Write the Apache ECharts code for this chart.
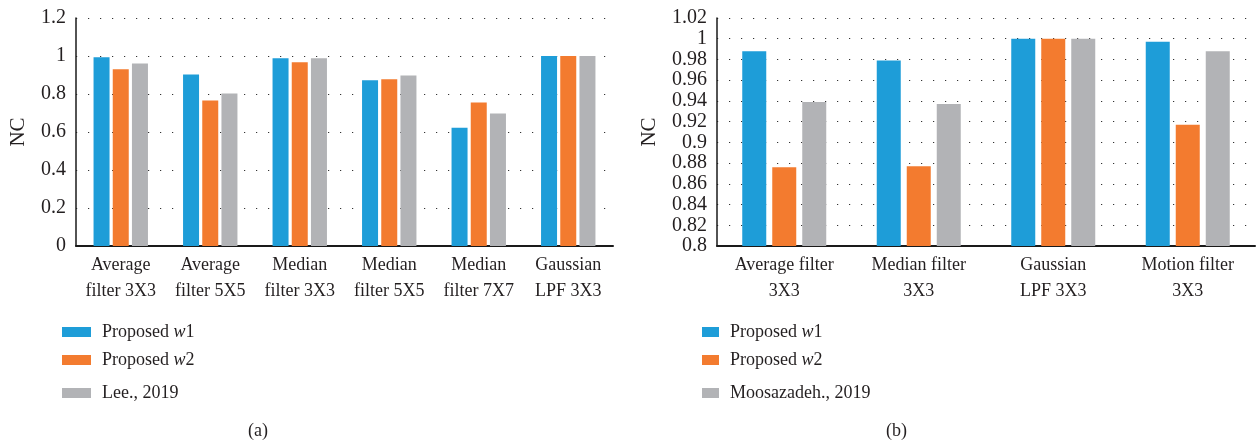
<!DOCTYPE html>
<html>
<head>
<meta charset="utf-8">
<script src="https://cdn.jsdelivr.net/npm/echarts@6/dist/echarts.min.js"></script>
<style>
  html, body { margin: 0; padding: 0; background: #fff; }
  #wrap { position: relative; width: 1256px; height: 446px; }
  #chartA, #chartB { position: absolute; top: 0; width: 628px; height: 446px; }
  #chartA { left: 0; }
  #chartB { left: 628px; }
</style>
</head>
<body>
<div id="wrap">
  <div id="chartA"></div>
  <div id="chartB"></div>
</div>
<script>
// Panel (a): NC under filtering attacks, compared with Lee., 2019
const catsA = ['Average\nfilter 3X3', 'Average\nfilter 5X5', 'Median\nfilter 3X3',
               'Median\nfilter 5X5', 'Median\nfilter 7X7', 'Gaussian\nLPF 3X3'];
const w1A  = [0.993, 0.902, 0.988, 0.872, 0.623, 1.0];
const w2A  = [0.930, 0.766, 0.967, 0.877, 0.755, 1.0];
const leeA = [0.961, 0.803, 0.988, 0.898, 0.697, 1.0];

// Panel (b): NC compared with Moosazadeh., 2019
const catsB = ['Average filter\n3X3', 'Median filter\n3X3', 'Gaussian\nLPF 3X3', 'Motion filter\n3X3'];
const w1B  = [0.988, 0.979, 1.0, 0.997];
const w2B  = [0.876, 0.877, 1.0, 0.917];
const mooB = [0.939, 0.937, 1.0, 0.988];

const namesA = ['Proposed w1', 'Proposed w2', 'Lee., 2019'];
const namesB = ['Proposed w1', 'Proposed w2', 'Moosazadeh., 2019'];

const COLORS = ['#1e9dd8', '#f37b2f', '#b2b3b6'];
const FONT = '"Liberation Serif", "DejaVu Serif", serif';
const INK = '#231f20';

function legendFor(name, i, left, tops, iw) {
  return {
    data: [name],
    left: left,
    top: tops[i],
    orient: 'vertical',
    padding: 0,
    itemWidth: iw,
    itemHeight: 10,
    icon: 'rect',
    selectedMode: false,
    formatter: n => n.replace(/w(\d)/, '{i|w}$1'),
    textStyle: {
      fontFamily: FONT, fontSize: 18, color: INK, padding: [0, 0, 0, 6],
      rich: { i: { fontFamily: FONT, fontSize: 18, fontStyle: 'italic', color: INK } }
    }
  };
}

function build(cats, data, names, cfg) {
  const legendTops = [323, 351, 384];
  return {
    animation: false,
    color: COLORS,
    grid: { left: cfg.left, right: cfg.right, top: 18, bottom: 200 },
    legend: names.map((n, i) => legendFor(n, i, cfg.legendLeft, legendTops, cfg.iconW)),
    graphic: [{
      type: 'text', left: cfg.capX, top: 422,
      style: { text: cfg.caption, font: '18px ' + FONT, fill: INK }
    }],
    xAxis: {
      type: 'category',
      data: cats,
      axisLine: { lineStyle: { color: '#1a1a1a', width: 2 } },
      axisTick: { show: false },
      axisLabel: {
        interval: 0, margin: 6, fontFamily: FONT, fontSize: 18, color: INK, lineHeight: 26
      }
    },
    yAxis: {
      type: 'value',
      min: cfg.min, max: cfg.max, interval: cfg.step,
      name: 'NC', nameLocation: 'middle', nameGap: cfg.nameGap,
      nameTextStyle: { fontFamily: FONT, fontSize: 21, color: INK },
      axisLine: { show: true, lineStyle: { color: '#1a1a1a', width: 1.5 } },
      axisTick: { show: false },
      axisLabel: {
        margin: 10, fontFamily: FONT, fontSize: 20, color: INK,
        formatter: v => String(+v.toFixed(2))
      },
      splitLine: { show: true, lineStyle: { color: '#333', width: 1.2, type: [1.2, 10.8] } }
    },
    series: data.map((d, i) => ({
      type: 'bar', name: names[i], data: d,
      barWidth: cfg.barW, barGap: cfg.barGap
    }))
  };
}

const chartA = echarts.init(document.getElementById('chartA'), null, { renderer: 'canvas' });
chartA.setOption(build(catsA, [w1A, w2A, leeA], namesA, {
  left: 75, right: 15, min: 0, max: 1.2, step: 0.2, nameGap: 47,
  barW: 16, barGap: '20%', legendLeft: 62, iconW: 29, caption: '(a)', capX: 248
}));

const chartB = echarts.init(document.getElementById('chartB'), null, { renderer: 'canvas' });
chartB.setOption(build(catsB, [w1B, w2B, mooB], namesB, {
  left: 89, right: 1, min: 0.8, max: 1.02, step: 0.02, nameGap: 57,
  barW: 24, barGap: '25%', legendLeft: 74, iconW: 17, caption: '(b)', capX: 258
}));
</script>
</body>
</html>
